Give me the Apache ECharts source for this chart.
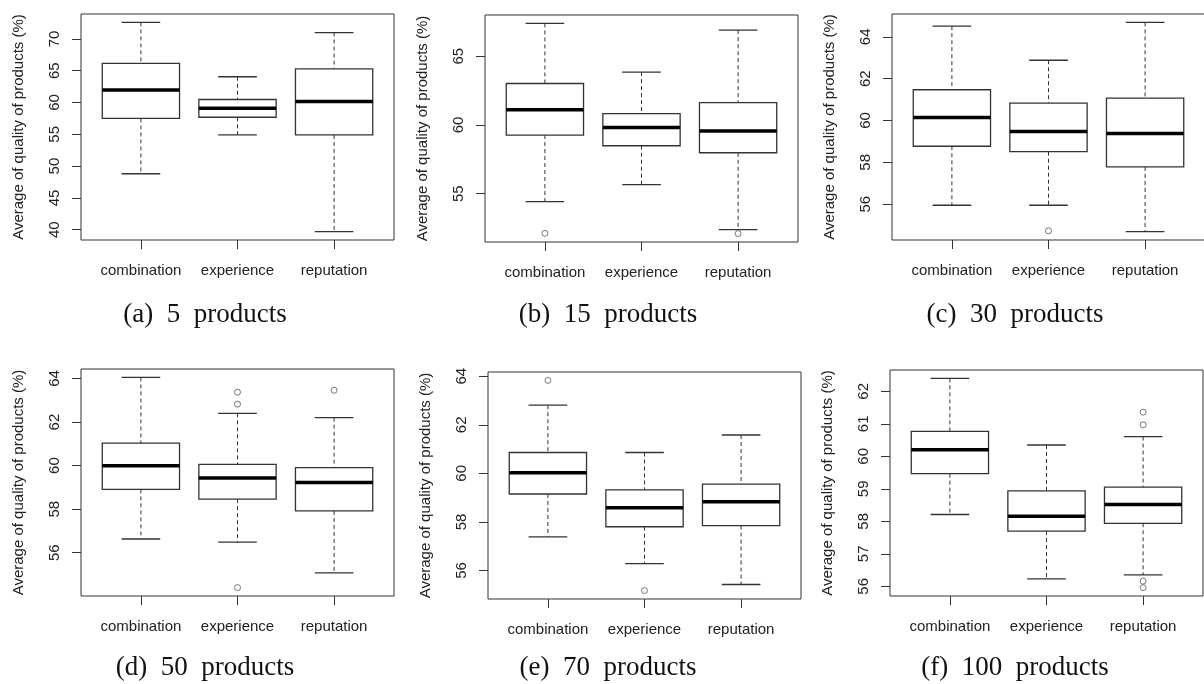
<!DOCTYPE html>
<html>
<head>
<meta charset="utf-8">
<script src="https://cdn.jsdelivr.net/npm/echarts@6/dist/echarts.min.js"></script>
<style>
  html, body { margin: 0; padding: 0; background: #fff; }
  #main { width: 1204px; height: 684px; }
</style>
</head>
<body>
<div id="main"></div>
<script>
// groups on the x axis of every panel
const groups = ['combination', 'experience', 'reputation'];
const captions = ['(a)\u20025\u2002products', '(b)\u200215\u2002products', '(c)\u200230\u2002products',
                  '(d)\u200250\u2002products', '(e)\u200270\u2002products', '(f)\u2002100\u2002products'];

// box stats per group: [lower whisker, Q1, median, Q3, upper whisker]
const stats5   = [[48.8, 57.5, 61.95, 66.16, 72.6], [54.9, 57.68, 59.1, 60.47, 64.05], [39.7, 54.9, 60.16, 65.3, 71.0]];
const stats15  = [[54.42, 59.27, 61.1, 63.02, 67.39], [55.66, 58.49, 59.81, 60.83, 63.85], [52.39, 57.98, 59.56, 61.63, 66.9]];
const stats30  = [[55.95, 58.77, 60.14, 61.47, 64.51], [55.95, 58.51, 59.47, 60.83, 62.88], [54.69, 57.78, 59.38, 61.07, 64.69]];
const stats50  = [[56.63, 58.91, 59.99, 61.03, 64.05], [56.49, 58.46, 59.43, 60.06, 62.4], [55.08, 57.92, 59.22, 59.91, 62.2]];
const stats70  = [[57.38, 59.15, 60.03, 60.86, 62.81], [56.28, 57.8, 58.58, 59.32, 60.86], [55.42, 57.85, 58.83, 59.56, 61.58]];
const stats100 = [[58.21, 59.47, 60.2, 60.77, 62.4], [56.23, 57.7, 58.16, 58.94, 60.35], [56.35, 57.94, 58.52, 59.05, 60.61]];

// outliers: [group number (1..3), value]
const outliers5   = [];
const outliers15  = [[1, 52.12], [3, 52.1]];
const outliers30  = [[2, 54.73]];
const outliers50  = [[2, 63.37], [2, 62.82], [2, 54.4], [3, 63.46]];
const outliers70  = [[1, 63.83], [2, 55.17]];
const outliers100 = [[3, 61.36], [3, 60.97], [3, 56.16], [3, 55.96]];

// y tick labels
const yTicks5   = [40, 45, 50, 55, 60, 65, 70];
const yTicks15  = [55, 60, 65];
const yTicks30  = [56, 58, 60, 62, 64];
const yTicks50  = [56, 58, 60, 62, 64];
const yTicks70  = [56, 58, 60, 62, 64];
const yTicks100 = [56, 57, 58, 59, 60, 61, 62];

const allStats = [stats5, stats15, stats30, stats50, stats70, stats100];
const allOut = [outliers5, outliers15, outliers30, outliers50, outliers70, outliers100];
const allTicks = [yTicks5, yTicks15, yTicks30, yTicks50, yTicks70, yTicks100];

// plot frames in px
const frames = [
    {left: 81, top: 14, width: 313, height: 226},
    {left: 485, top: 15, width: 313, height: 227},
    {left: 892, top: 14, width: 313, height: 226},
    {left: 81, top: 369, width: 313, height: 227},
    {left: 488, top: 372, width: 313, height: 227},
    {left: 890, top: 370, width: 313, height: 226}
];
const capX = [205, 608, 1015];
const capY = [315, 668];

const textColor = '#222';
const lineColor = '#333';
const font = 'Liberation Sans, Arial, sans-serif';

function renderBox(params, api) {
    const x = api.value(0);
    const lo = api.coord([x, api.value(1)]);
    const q1 = api.coord([x, api.value(2)]);
    const md = api.coord([x, api.value(3)]);
    const q3 = api.coord([x, api.value(4)]);
    const hi = api.coord([x, api.value(5)]);
    const bw = api.size([0.8, 0])[0];
    const cx = md[0];
    const dash = {stroke: lineColor, lineWidth: 1, lineDash: [4, 3]};
    const solid = {stroke: lineColor, lineWidth: 1.3};
    return {
        type: 'group',
        children: [
            {type: 'line', shape: {x1: cx, y1: hi[1], x2: cx, y2: q3[1]}, style: dash},
            {type: 'line', shape: {x1: cx, y1: q1[1], x2: cx, y2: lo[1]}, style: dash},
            {type: 'line', shape: {x1: cx - bw / 4, y1: hi[1], x2: cx + bw / 4, y2: hi[1]}, style: solid},
            {type: 'line', shape: {x1: cx - bw / 4, y1: lo[1], x2: cx + bw / 4, y2: lo[1]}, style: solid},
            {type: 'rect', shape: {x: cx - bw / 2, y: q3[1], width: bw, height: q1[1] - q3[1]},
                style: {fill: '#fff', stroke: lineColor, lineWidth: 1.3}},
            {type: 'line', shape: {x1: cx - bw / 2, y1: md[1], x2: cx + bw / 2, y2: md[1]},
                style: {stroke: '#000', lineWidth: 3.5}}
        ]
    };
}

const grids = [], xAxes = [], yAxes = [], series = [];

allStats.forEach(function (stats, k) {
    // y range like R: data range padded by 4%
    let vals = [];
    stats.forEach(s => { vals = vals.concat(s); });
    allOut[k].forEach(o => vals.push(o[1]));
    const lo = Math.min.apply(null, vals), hi = Math.max.apply(null, vals);
    const pad = (hi - lo) * 0.04;

    grids.push(Object.assign({
        show: true, borderColor: lineColor, borderWidth: 1,
        containLabel: false, outerBoundsMode: 'none'
    }, frames[k]));

    xAxes.push({
        gridIndex: k, type: 'value', min: 0.38, max: 3.62,
        axisLine: {show: false}, splitLine: {show: false},
        axisTick: {show: true, length: 9, customValues: [1, 2, 3], lineStyle: {color: lineColor}},
        axisLabel: {
            customValues: [1, 2, 3], formatter: v => groups[Math.round(v) - 1] || '',
            margin: 23, fontSize: 15, color: textColor, fontFamily: font
        }
    });

    yAxes.push({
        gridIndex: k, type: 'value', min: lo - pad, max: hi + pad,
        name: 'Average of quality of products (%)', nameLocation: 'middle', nameGap: 55,
        nameTextStyle: {fontSize: 15, color: textColor, fontFamily: font},
        axisLine: {show: false}, splitLine: {show: false},
        axisTick: {show: true, length: 9, customValues: allTicks[k], lineStyle: {color: lineColor}},
        axisLabel: {
            customValues: allTicks[k], rotate: 90, margin: 19,
            fontSize: 15, color: textColor, fontFamily: font
        }
    });

    series.push({
        type: 'custom', xAxisIndex: k, yAxisIndex: k,
        renderItem: renderBox,
        encode: {x: 0, y: [1, 2, 3, 4, 5]},
        data: stats.map((s, i) => [i + 1].concat(s)),
        silent: true
    });

    series.push({
        type: 'scatter', xAxisIndex: k, yAxisIndex: k,
        symbol: 'circle', symbolSize: 6,
        itemStyle: {color: '#fff', borderColor: '#555', borderWidth: 1},
        data: allOut[k],
        silent: true
    });
});

const chart = echarts.init(document.getElementById('main'));
chart.setOption({
    animation: false,
    backgroundColor: '#fff',
    grid: grids,
    xAxis: xAxes,
    yAxis: yAxes,
    series: series,
    graphic: captions.map((t, i) => ({
        type: 'text',
        x: capX[i % 3],
        y: capY[Math.floor(i / 3)],
        style: {
            text: t, fill: '#111',
            font: '27px "Liberation Serif", "Times New Roman", serif',
            align: 'center', verticalAlign: 'middle'
        }
    }))
});
</script>
</body>
</html>
